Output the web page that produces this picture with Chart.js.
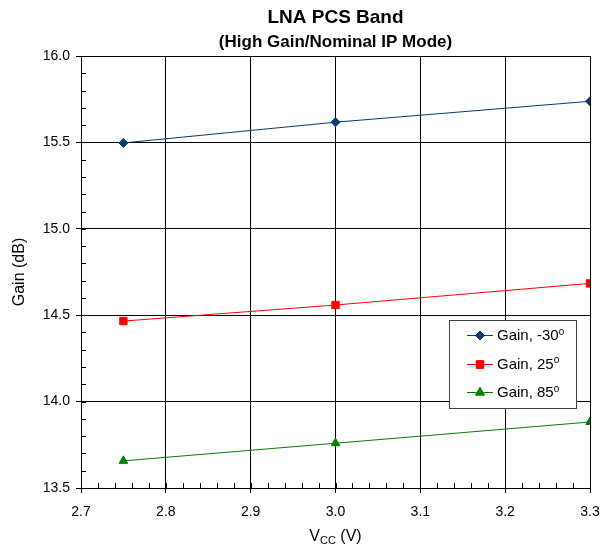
<!DOCTYPE html>
<html>
<head>
<meta charset="utf-8">
<script src="https://cdn.jsdelivr.net/npm/chart.js@4.4.0/dist/chart.umd.min.js"></script>
<style>
  html, body { margin: 0; padding: 0; background: #fff; }
  #wrap { width: 601px; height: 548px; }
</style>
</head>
<body>
<div id="wrap"><canvas id="gainChart" width="601" height="548"></canvas></div>
<script>
// data
const vccValues = [2.75, 3.0, 3.3];
const gainMinus30 = [15.497, 15.617, 15.738];
const gain25 = [14.466, 14.559, 14.684];
const gain85 = [13.657, 13.759, 13.882];
const seriesLabels = ['Gain, -30º', 'Gain, 25º', 'Gain, 85º'];
const seriesColors = ['#0a3a6e', '#ff0000', '#008000'];
const seriesMarkers = ['rectRot', 'rect', 'triangle'];
const markerSizes = [4.5, 5.2, 5];

const xMin = 2.7, xMax = 3.3, xStep = 0.1, xMinorStep = 0.02;
const yMin = 13.5, yMax = 16.0, yStep = 0.5, yMinorStep = 0.1;

const FONT = 'Liberation Sans, Arial, sans-serif';

function toPoints(ys) {
    return vccValues.map((x, i) => ({ x: x, y: ys[i] }));
}

const allSeries = [gainMinus30, gain25, gain85];
const datasets = allSeries.map((ys, i) => ({
    label: seriesLabels[i],
    data: toPoints(ys),
    borderColor: seriesColors[i],
    backgroundColor: seriesColors[i],
    borderWidth: 1,
    pointStyle: seriesMarkers[i],
    pointRadius: markerSizes[i],
    pointBorderWidth: 1,
    tension: 0
}));

// minor ticks, drawn inward from the axes
const minorTicks = {
    id: 'minorTicks',
    afterDraw(chart) {
        const ctx = chart.ctx;
        const xs = chart.scales.x, ys = chart.scales.y;
        const area = chart.chartArea;
        ctx.save();
        ctx.strokeStyle = '#000';
        ctx.lineWidth = 1;
        ctx.beginPath();
        const nx = Math.round((xMax - xMin) / xMinorStep);
        for (let i = 0; i <= nx; i++) {
            const px = Math.round(xs.getPixelForValue(xMin + i * xMinorStep)) + 0.5;
            ctx.moveTo(px, area.bottom);
            ctx.lineTo(px, area.bottom - 5);
        }
        const ny = Math.round((yMax - yMin) / yMinorStep);
        for (let i = 0; i <= ny; i++) {
            const py = Math.round(ys.getPixelForValue(yMin + i * yMinorStep)) + 0.5;
            ctx.moveTo(area.left, py);
            ctx.lineTo(area.left + 5, py);
        }
        ctx.stroke();
        ctx.restore();
    }
};

// titles, axis titles and the boxed legend
const labelsPlugin = {
    id: 'labelsPlugin',
    afterDraw(chart) {
        const ctx = chart.ctx;
        const area = chart.chartArea;
        const cx = (area.left + area.right) / 2;
        ctx.save();
        ctx.fillStyle = '#000';
        ctx.textAlign = 'center';
        ctx.textBaseline = 'alphabetic';
        ctx.font = 'bold 19px ' + FONT;
        ctx.fillText('LNA PCS Band', cx, 23);
        ctx.font = 'bold 17px ' + FONT;
        ctx.fillText('(High Gain/Nominal IP Mode)', cx, 47);

        // y axis title
        ctx.save();
        ctx.translate(24, (area.top + area.bottom) / 2);
        ctx.rotate(-Math.PI / 2);
        ctx.font = '16px ' + FONT;
        ctx.fillText('Gain (dB)', 0, 0);
        ctx.restore();

        // x axis title with subscript
        ctx.textAlign = 'left';
        const big = '16px ' + FONT, small = '11px ' + FONT;
        ctx.font = big;
        const wV = ctx.measureText('V').width;
        const wRest = ctx.measureText(' (V)').width;
        ctx.font = small;
        const wCC = ctx.measureText('CC').width;
        let x0 = cx - (wV + wCC + wRest) / 2;
        const base = 541;
        ctx.font = big;
        ctx.fillText('V', x0, base);
        ctx.font = small;
        ctx.fillText('CC', x0 + wV, base + 3);
        ctx.font = big;
        ctx.fillText(' (V)', x0 + wV + wCC, base);

        // legend box
        const lx = 449, ly = 320, lw = 127, lh = 88;
        ctx.fillStyle = '#fff';
        ctx.fillRect(lx, ly, lw, lh);
        ctx.strokeStyle = '#404040';
        ctx.lineWidth = 1;
        ctx.strokeRect(lx + 0.5, ly + 0.5, lw, lh);
        ctx.font = '15px ' + FONT;
        ctx.textBaseline = 'middle';
        chart.data.datasets.forEach((ds, i) => {
            const y = ly + 15 + i * 28.5;
            ctx.strokeStyle = ds.borderColor;
            ctx.beginPath();
            ctx.moveTo(lx + 18, Math.round(y) + 0.5);
            ctx.lineTo(lx + 44, Math.round(y) + 0.5);
            ctx.stroke();
            Chart.helpers.drawPoint(ctx, {
                pointStyle: ds.pointStyle,
                radius: ds.pointRadius,
                borderWidth: 1
            }, lx + 31, Math.round(y) + 0.5);
            ctx.fillStyle = ds.borderColor;
            ctx.fill();
            ctx.stroke();
            ctx.fillStyle = '#000';
            const parts = ds.label.split('º');
            ctx.font = '15px ' + FONT;
            ctx.fillText(parts[0], lx + 48, y + 1);
            const w = ctx.measureText(parts[0]).width;
            ctx.font = '10px ' + FONT;
            ctx.fillText('o', lx + 48 + w, y - 3);
        });
        ctx.restore();
    }
};

new Chart(document.getElementById('gainChart'), {
    type: 'line',
    data: { datasets: datasets },
    options: {
        responsive: false,
        animation: false,
        layout: { padding: { top: 56, right: 11, left: 0, bottom: 0 } },
        plugins: {
            legend: { display: false },
            title: { display: false },
            tooltip: { enabled: false }
        },
        scales: {
            x: {
                type: 'linear',
                min: xMin,
                max: xMax,
                afterFit(scale) {
                    scale.height = 60;
                    scale.paddingLeft = 0;
                    scale.paddingRight = 0;
                },
                ticks: {
                    stepSize: xStep,
                    color: '#000',
                    font: { family: FONT, size: 14 },
                    padding: 11,
                    maxRotation: 0,
                    callback: v => v.toFixed(1)
                },
                grid: { color: '#000', lineWidth: 1, tickLength: 5, tickColor: '#000' },
                border: { color: '#000', width: 1 }
            },
            y: {
                type: 'linear',
                min: yMin,
                max: yMax,
                afterFit(scale) {
                    scale.width = 81;
                    scale.paddingTop = 0;
                    scale.paddingBottom = 0;
                },
                ticks: {
                    stepSize: yStep,
                    color: '#000',
                    font: { family: FONT, size: 14 },
                    padding: 6,
                    callback: v => v.toFixed(1)
                },
                grid: { color: '#000', lineWidth: 1, tickLength: 5, tickColor: '#000' },
                border: { color: '#000', width: 1 }
            }
        }
    },
    plugins: [minorTicks, labelsPlugin]
});
</script>
</body>
</html>
